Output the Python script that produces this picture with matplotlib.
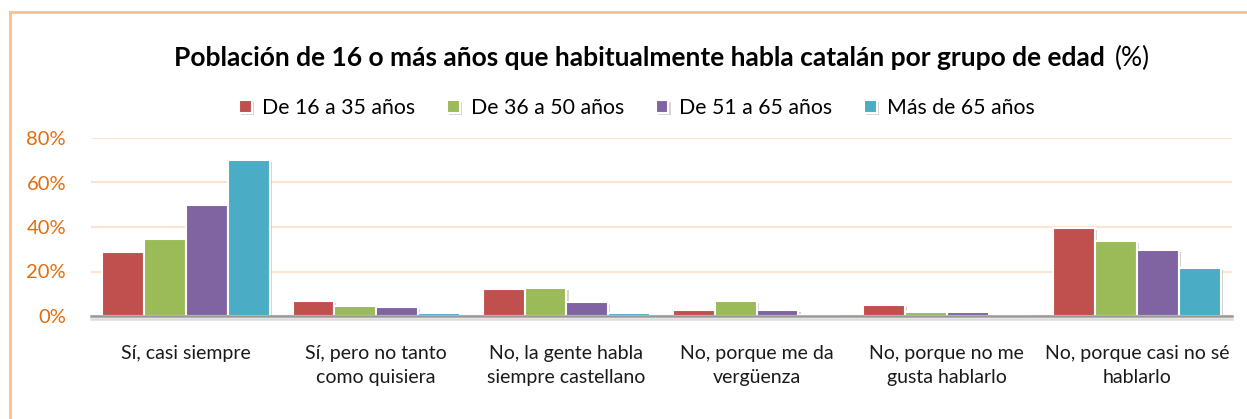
import matplotlib
matplotlib.use("Agg")
import matplotlib.pyplot as plt
import matplotlib.patheffects as pe
from matplotlib.lines import Line2D
import numpy as np

plt.rcParams['font.family'] = ['Lato', 'DejaVu Sans']

categories = ["Sí, casi siempre", "Sí, pero no tanto\ncomo quisiera",
              "No, la gente habla\nsiempre castellano", "No, porque me da\nvergüenza",
              "No, porque no me\ngusta hablarlo", "No, porque casi no sé\nhablarlo"]
series_names = ["De 16 a 35 años", "De 36 a 50 años", "De 51 a 65 años", "Más de 65 años"]
v_16_35 = [28.8, 6.8, 12.2, 2.7, 4.9, 39.5]
v_36_50 = [34.8, 4.6, 12.8, 6.7, 2.0, 33.8]
v_51_65 = [50.0, 4.1, 6.1, 2.9, 2.0, 29.7]
v_65 = [70.0, 1.5, 1.3, 0.3, 0.6, 21.6]
yticks = [0, 20, 40, 60, 80]
ytick_labels = ["0%", "20%", "40%", "60%", "80%"]

colors = ["#C0504D", "#9BBB59", "#8064A2", "#4BACC6"]
W, H = 1247, 419
fig = plt.figure(figsize=(W / 100, H / 100), dpi=100)
ax = fig.add_axes([91 / W, (H - 316) / H, (1232 - 91) / W, (316 - 138) / H])

x = np.arange(len(categories))
bw = 0.22
shadow = [pe.SimplePatchShadow(offset=(1.5, -1.5), shadow_rgbFace='#888888', alpha=0.35), pe.Normal()]
for i, (vals, c, name) in enumerate(zip([v_16_35, v_36_50, v_51_65, v_65], colors, series_names)):
    bars = ax.bar(x + (i - 1.5) * bw, vals, width=bw, color=c, edgecolor='white', linewidth=1.5,
                  label=name, zorder=3)
    for b in bars:
        b.set_path_effects(shadow)

ax.set_xlim(-0.5, len(categories) - 0.5)
ax.set_ylim(0, 80)
ax.set_yticks(yticks)
ax.set_yticklabels(ytick_labels)
ax.yaxis.grid(True, color='#FDE4D0', linewidth=1.5, zorder=0)
ax.set_axisbelow(True)
for s in ['left', 'right', 'top']:
    ax.spines[s].set_visible(False)
ax.spines['bottom'].set_color('#999999')
ax.spines['bottom'].set_linewidth(1.8)
ax.spines['bottom'].set_zorder(4)
ax.spines['bottom'].set_path_effects([pe.SimpleLineShadow(offset=(0, -2), shadow_color='#bbbbbb', alpha=0.5), pe.Normal()])
ax.tick_params(axis='y', length=0, pad=18, labelsize=14.5, labelcolor='#E46C0A')
ax.set_xticks(x)
ax.set_xticklabels(categories, fontsize=14, linespacing=1.5)
ax.tick_params(axis='x', length=0, pad=21, labelcolor='#1a1a1a')

# Title (bold part + normal "(%)")
ty = 1 - 58 / H
t1 = fig.text(0, ty, "Población de 16 o más años que habitualmente habla catalán por grupo de edad",
              fontsize=19, fontweight='bold', ha='left', va='center', color='black')
t2 = fig.text(0, ty, "(%)", fontsize=19, ha='left', va='center', color='black')
fig.canvas.draw()
r = fig.canvas.get_renderer()
w1 = t1.get_window_extent(r).width
w2 = t2.get_window_extent(r).width
gap = 10
total = w1 + gap + w2
start = 662 - total / 2
t1.set_x(start / W)
t2.set_x((start + w1 + gap) / W)

fig.legend(loc='center', bbox_to_anchor=(637 / W, 1 - 108 / H), ncol=4, frameon=False,
           fontsize=15.3, handlelength=0.6, handleheight=0.6, handletextpad=0.5,
           columnspacing=1.5)

# outer frame (left and top borders)
fc = '#FAC090'
fig.add_artist(Line2D([10 / W, 10 / W], [0, 1 - 12 / H], color=fc, linewidth=2, transform=fig.transFigure))
fig.add_artist(Line2D([10 / W, 1], [1 - 12 / H, 1 - 12 / H], color=fc, linewidth=2, transform=fig.transFigure))

fig.savefig("out.png", dpi=100)
